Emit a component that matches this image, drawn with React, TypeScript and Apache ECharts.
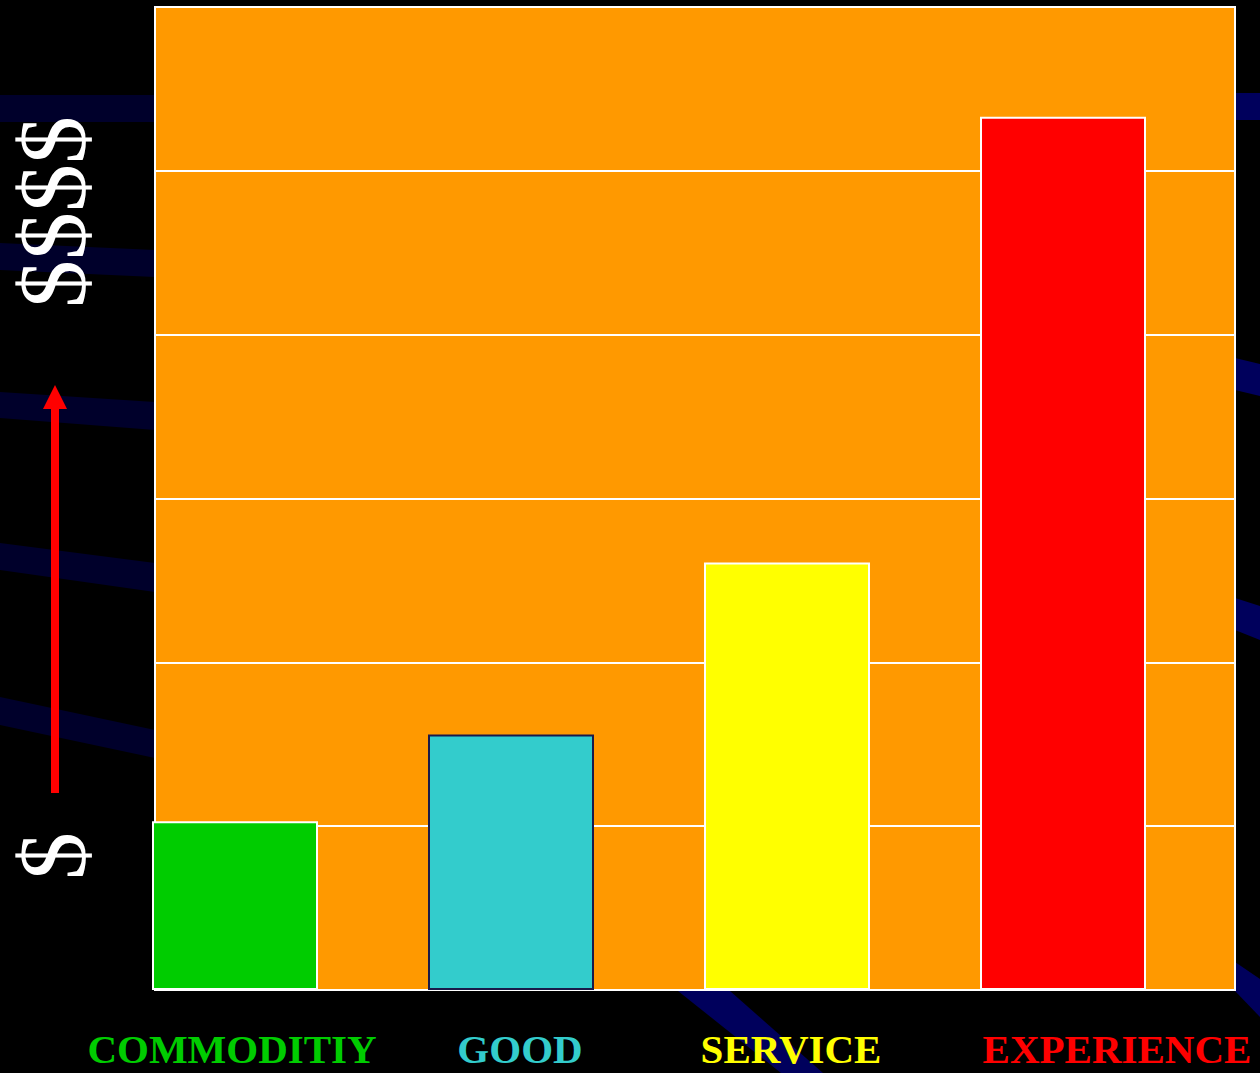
import React, { useEffect, useRef } from "react";
import * as echarts from "echarts";

const categories = ["COMMODITIY", "GOOD", "SERVICE", "EXPERIENCE"];
const values = [1.03, 1.56, 2.61, 5.33];
const barColors = ["#00CC00", "#33CCCC", "#FFFF00", "#FF0000"];
const barBorders = ["#FFFFFF", "#1A1A4A", "#FFFFFF", "#FFFFFF"];
const labelColors = ["#00CC00", "#33CCCC", "#FFFF00", "#FF0000"];
const labelShift = [-3, 9, 4, 54];
const yMin = 0;
const yMax = 6;
const yStep = 1;
const topLabel = "$$$$";
const bottomLabel = "$";

export default function App() {
  const ref = useRef<HTMLDivElement>(null);
  useEffect(() => {
    if (!ref.current) return;
    const chart = echarts.init(ref.current, null, { renderer: "svg" });
    const dark = "#00002B";
    const navy = "#00005C";
    const stripes = [
      { pts: [[0, 95], [155, 95], [155, 122], [0, 122]], c: dark },
      { pts: [[0, 243], [155, 250], [155, 277], [0, 270]], c: dark },
      { pts: [[0, 392], [155, 402], [155, 430], [0, 418]], c: dark },
      { pts: [[0, 543], [155, 563], [155, 592], [0, 570]], c: dark },
      { pts: [[0, 697], [155, 730], [155, 758], [0, 725]], c: dark },
      { pts: [[1235, 93], [1260, 93], [1260, 120], [1235, 120]], c: navy },
      { pts: [[1235, 358], [1260, 364], [1260, 396], [1235, 390]], c: navy },
      { pts: [[1235, 598], [1260, 606], [1260, 640], [1235, 630]], c: navy },
      { pts: [[1235, 962], [1260, 979], [1260, 1017], [1235, 991]], c: navy },
      { pts: [[678, 991], [730, 991], [823, 1073], [781, 1073]], c: navy },
    ];
    const graphic: any[] = stripes.map((s) => ({
      type: "polygon",
      z: -1,
      silent: true,
      shape: { points: s.pts },
      style: { fill: s.c },
    }));
    graphic.push(
      {
        type: "text",
        x: 52,
        y: 212,
        rotation: Math.PI / 2,
        z: 10,
        style: {
          text: topLabel,
          fontSize: 96,
          fontFamily: "Liberation Serif",
          fill: "#FFFFFF",
          textAlign: "center",
          textVerticalAlign: "middle",
        },
      },
      {
        type: "text",
        x: 52,
        y: 856,
        rotation: Math.PI / 2,
        z: 10,
        style: {
          text: bottomLabel,
          fontSize: 96,
          fontFamily: "Liberation Serif",
          fill: "#FFFFFF",
          textAlign: "center",
          textVerticalAlign: "middle",
        },
      },
      {
        type: "rect",
        z: 10,
        shape: { x: 51, y: 405, width: 8, height: 388 },
        style: { fill: "#FF0000" },
      },
      {
        type: "polygon",
        z: 10,
        shape: { points: [[43, 409], [55, 385], [67, 409]] },
        style: { fill: "#FF0000" },
      }
    );

    chart.setOption({
      animation: false,
      backgroundColor: "#000000",
      graphic,
      grid: [
        { left: 97, top: 7, width: 1104, height: 983, show: false },
        {
          left: 155,
          top: 7,
          width: 1080,
          height: 983,
          show: true,
          backgroundColor: "#FF9900",
          borderColor: "#FFFFFF",
          borderWidth: 2,
        },
      ],
      xAxis: [
        {
          type: "category",
          gridIndex: 0,
          data: categories,
          show: false,
        },
        { type: "value", gridIndex: 1, min: 0, max: 1, show: false },
      ],
      yAxis: [
        { type: "value", gridIndex: 0, min: yMin, max: yMax, interval: yStep, show: false },
        {
          type: "value",
          gridIndex: 1,
          min: yMin,
          max: yMax,
          interval: yStep,
          axisLine: { show: false },
          axisTick: { show: false },
          axisLabel: { show: false },
          splitLine: { show: true, lineStyle: { color: "#FFFFFF", width: 2 } },
        },
      ],
      series: [
        {
          type: "bar",
          xAxisIndex: 0,
          yAxisIndex: 0,
          barWidth: 166,
          data: values.map((v, i) => ({
            value: v,
            itemStyle: {
              color: barColors[i],
              borderColor: barBorders[i],
              borderWidth: 2,
            },
            label: {
              show: true,
              position: "bottom",
              distance: 41,
              offset: [labelShift[i], 0],
              formatter: "{b}",
              color: labelColors[i],
              fontFamily: "Liberation Serif",
              fontWeight: "bold",
              fontSize: 41,
              lineHeight: 36,
            },
          })),
        },
      ],
    });
    return () => chart.dispose();
  }, []);
  return (
    <div
      ref={ref}
      style={{ position: "fixed", left: 0, top: 0, width: 1260, height: 1073 }}
    />
  );
}
